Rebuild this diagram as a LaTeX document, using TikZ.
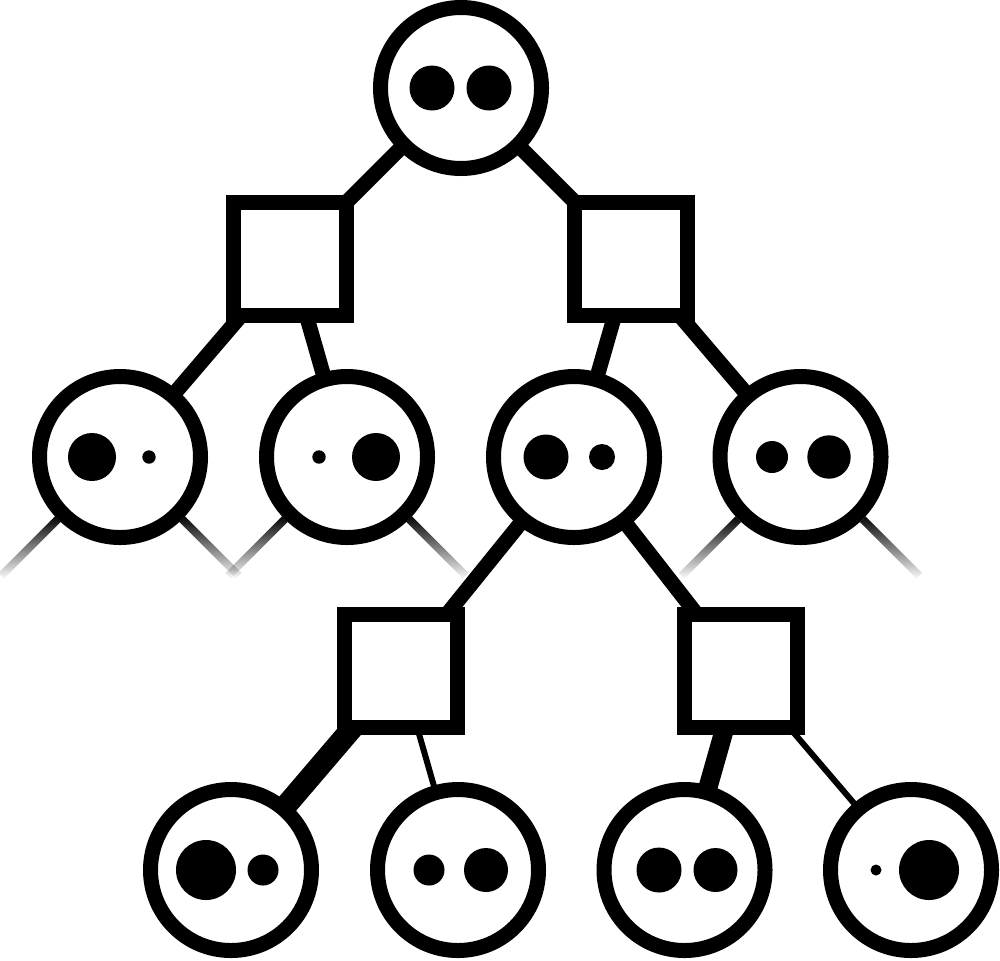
\documentclass[tikz,border=0pt]{standalone}
\usetikzlibrary{fadings, backgrounds}
\tikzfading[name=fadeout, top color=transparent!0, bottom color=transparent!100]
\tikzset{
	chance/.style={circle, draw=black, line width=0.15cm, fill=white, minimum size=1.61cm, inner sep=0pt},
	choice/.style={rectangle, draw=black, line width=0.15cm, fill=white, minimum size=1.13cm, inner sep=0pt},
	link/.style={line width=0.15cm},
	stub/.style={line width=0.08cm, path fading=fadeout},
}
\begin{document}
\begin{tikzpicture}
	\useasboundingbox (0,0) rectangle (10,9.6);
	% nodes
	\node[chance] (root) at (4.61,8.72) {};
	\node[choice] (sqL) at (2.90,7.015) {};
	\node[choice] (sqR) at (6.31,7.015) {};
	\node[chance] (c1) at (1.20,5.03) {};
	\node[chance] (c2) at (3.47,5.03) {};
	\node[chance] (c3) at (5.74,5.03) {};
	\node[chance] (c4) at (8.005,5.03) {};
	\node[choice] (sqLL) at (4.01,2.89) {};
	\node[choice] (sqLR) at (7.41,2.89) {};
	\node[chance] (c5) at (2.31,0.90) {};
	\node[chance] (c6) at (4.58,0.90) {};
	\node[chance] (c7) at (6.845,0.90) {};
	\node[chance] (c8) at (9.11,0.90) {};
	% connectors
	\begin{scope}[on background layer]
		\draw[link] (root.center) -- (sqL.center);
		\draw[link] (root.center) -- (sqR.center);
		\draw[link] (sqL.center) -- (c1.center);
		\draw[link] (sqL.center) -- (c2.center);
		\draw[link] (sqR.center) -- (c3.center);
		\draw[link] (sqR.center) -- (c4.center);
		\draw[link] (c3.center) -- (sqLL.center);
		\draw[link] (c3.center) -- (sqLR.center);
		\draw[line width=0.22cm] (sqLL.center) -- (c5.center);
		\draw[line width=0.06cm] (sqLL.center) -- (c6.center);
		\draw[line width=0.19cm] (sqLR.center) -- (c7.center);
		\draw[line width=0.06cm] (sqLR.center) -- (c8.center);
		% open branches
		\foreach \n in {c1,c2,c4} {
			\draw[stub] (\n.225) -- ++(225:0.8);
			\draw[stub] (\n.-45) -- ++(-45:0.8);
		}
	\end{scope}
	% dots
	\foreach \n/\a/\ra/\b/\rb in {root/-0.29/0.225/0.28/0.225, c1/-0.28/0.24/0.29/0.067, c2/-0.28/0.067/0.29/0.24,
		c3/-0.28/0.225/0.28/0.13, c4/-0.285/0.16/0.285/0.217, c5/-0.25/0.30/0.32/0.155,
		c6/-0.29/0.155/0.28/0.22, c7/-0.255/0.225/0.31/0.22, c8/-0.35/0.055/0.18/0.30} {
		\fill (\n) ++(\a,0) circle (\ra);
		\fill (\n) ++(\b,0) circle (\rb);
	}
\end{tikzpicture}
\end{document}
